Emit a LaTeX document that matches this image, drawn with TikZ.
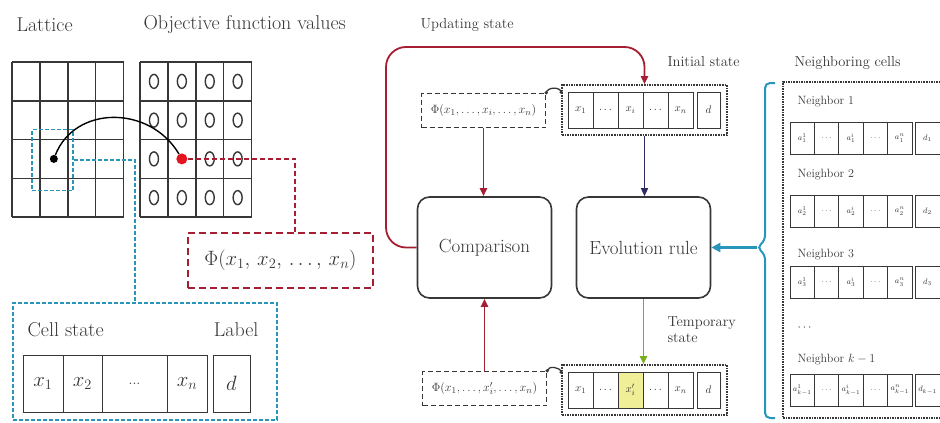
\documentclass[tikz,border=0pt]{standalone}
\usepackage{tikz}
\usetikzlibrary{arrows.meta, positioning, calc}
\definecolor{crimson}{RGB}{165,30,50}
\definecolor{cellteal}{RGB}{40,150,185}
\definecolor{leafgreen}{RGB}{120,175,30}
\definecolor{inkgray}{RGB}{55,55,55}
\definecolor{hilite}{RGB}{240,238,150}
\definecolor{pickred}{RGB}{230,20,30}

\begin{document}
\begin{tikzpicture}[x=1pt, y=-1pt,
  title/.style={anchor=west, text=inkgray, font=\fontsize{20}{22}\selectfont},
  note/.style={anchor=west, text=inkgray, align=left, font=\fontsize{14.5}{16}\selectfont},
  nbr/.style={anchor=west, text=inkgray, font=\fontsize{12}{14}\selectfont},
  block/.style={rectangle, draw=inkgray, line width=1.6pt, rounded corners=12pt,
                minimum width=134pt, minimum height=101pt, text=inkgray,
                font=\fontsize{19}{21}\selectfont},
  phibox/.style={rectangle, draw=inkgray, dash pattern=on 5pt off 3pt, line width=1.5pt,
                 inner sep=0pt, minimum width=124pt, minimum height=34pt, text=inkgray,
                 font=\fontsize{13}{14}\selectfont},
  stateframe/.style={rectangle, draw=inkgray, densely dotted, line width=1.6pt,
                     inner sep=0pt, minimum width=165pt, minimum height=50pt},
  scell/.style={rectangle, draw=inkgray, line width=1pt, inner sep=0pt,
                minimum width=25pt, minimum height=36pt, text=inkgray,
                font=\fontsize{11}{12}\selectfont},
  ncell/.style={scell, minimum width=24.4pt, minimum height=32pt,
                font=\fontsize{8.5}{9}\selectfont},
  bcell/.style={scell, minimum height=57pt, font=\fontsize{20}{22}\selectfont},
  tealbox/.style={rectangle, draw=cellteal, dash pattern=on 4pt off 2pt,
                  line width=1.5pt, inner sep=0pt},
  gridline/.style={draw=inkgray, line width=1.5pt},
  reddash/.style={draw=crimson, dash pattern=on 5pt off 3pt, line width=1.8pt},
  bluedash/.style={draw=cellteal, dash pattern=on 4pt off 2pt, line width=1.5pt},
  redarr/.style={-{Triangle[length=8pt,width=7pt]}, draw=crimson, line width=1.8pt},
  blackarr/.style={-{Triangle[length=8pt,width=7pt]}, draw=inkgray!80!blue, line width=1.5pt},
  greenarr/.style={-{Triangle[length=8pt,width=7pt]}, draw=leafgreen, line width=1.8pt},
  tealarr/.style={-{Triangle[length=9pt,width=9pt]}, draw=cellteal, line width=2.2pt},
  brace/.style={draw=cellteal, line width=2pt, rounded corners=5pt},
  hump/.style={draw=inkgray, line width=1.3pt},
]
\useasboundingbox[fill=white] (0,0) rectangle (940,423);

% Headings
\node[title] (lathead) at (13,25)  {Lattice};
\node[title] (objhead) at (140,25) {Objective function values};
\node[note]  (updhead) at (417,25) {Updating state};
\node[note]  (inihead) at (664,62) {Initial state};
\node[note]  (nbrhead) at (791,63) {Neighboring cells};
\node[note]  (tmphead) at (664,330) {Temporary\\state};

% Lattice and objective function grid
\foreach \gx in {12,140}
  \foreach \i in {0,...,4} {
    \draw[gridline] ({\gx+27.9*\i},62) -- ({\gx+27.9*\i},217);
    \draw[gridline] (\gx,{62+38.75*\i}) -- ({\gx+111.6},{62+38.75*\i});
  }
\foreach \c in {0,...,3}
  \foreach \r in {0,...,3} {
    \ifnum\c\r=12\relax\else
      \draw[line width=1.4pt, inkgray] ({140+27.9*(\c+0.5)},{62+38.75*(\r+0.5)})
        ellipse [x radius=4.5, y radius=7];
    \fi
  }

% Picked cell and its value
\node[tealbox, minimum width=41pt, minimum height=61pt] (pickbox) at (52.5,160) {};
\node[circle, fill=black, inner sep=0pt, minimum size=8pt] (bdot) at (53.85,158.9) {};
\node[circle, fill=pickred, inner sep=0pt, minimum size=11pt] (rdot) at (181.85,158.9) {};
\draw[line width=1.4pt, black] (bdot) .. controls (75,105) and (150,105) .. (rdot);

% Objective value box
\node[draw=crimson, dash pattern=on 7pt off 4pt, line width=2pt, minimum width=185pt,
      minimum height=55pt, text=inkgray, font=\fontsize{20}{22}\selectfont]
      (phibig) at (280.5,260.5) {$\Phi(x_1,\, x_2,\, \ldots,\, x_n)$};
\coordinate (redturn) at (295,158.9);
\draw[reddash] (rdot) -- (redturn) -- (redturn |- phibig.north);

% Cell state box
\node[tealbox, minimum width=264pt, minimum height=117pt] (cellframe) at (145,361.5) {};
\node[title] (cslabel) at (24,330) {Cell state};
\node[title, anchor=east] (lblabel) at (262,330) {Label};
\foreach \cx/\w/\t [count=\i] in {43/40/x_1, 82.5/39/x_2, 134.5/65/{\scriptstyle\ldots}, 187/40/x_n}
  \node[bcell, minimum width=\w] (cs\i) at (\cx,383.5) {$\t$};
\node[bcell, minimum width=37] (csd) at (231.5,383.5) {$d$};
\coordinate (blueturn) at (135,160);
\draw[bluedash] (pickbox.east) -- (blueturn) -- (blueturn |- cellframe.north);

% Comparison and evolution rule
\node[block] (comp) at (484.5,247.5) {Comparison};
\node[block] (evo)  at (643.5,247.5) {Evolution rule};
\node[phibox] (phitop) at (483.5,110.5) {$\Phi(x_1,\ldots,x_i,\ldots,x_n)$};
\node[phibox] (phibot) at (484.5,388.5) {$\Phi(x_1,\ldots,x_i',\ldots,x_n)$};
\node[stateframe] (init) at (644.5,110) {};
\node[stateframe] (temp) at (644.5,390) {};
\foreach \cx/\t/\u/\f [count=\i] in {580.5/x_1/x_1/white, 605.5/\ldots/\ldots/white,
    630.5/x_i/x_i'/hilite, 655.5/\ldots/\ldots/white, 680.5/x_n/x_n/white} {
  \node[scell] (ini\i) at (\cx,110) {$\t$};
  \node[scell, fill=\f] (tmp\i) at (\cx,390) {$\u$};
}
\node[scell, minimum width=23] (inid) at (708.5,110) {$d$};
\node[scell, minimum width=23] (tmpd) at (708.5,390) {$d$};

% Arrows of the loop
\coordinate (loopc) at (386,47);
\draw[redarr, rounded corners=20pt] (comp.west) -| (loopc) -| (init.north);
\draw[redarr] (phitop.south) -- (phitop.south |- comp.north);
\draw[redarr] (phibot.north) -- (phibot.north |- comp.south);
\draw[blackarr] (init.south) -- (init.south |- evo.north);
\draw[greenarr] (evo.south) -- (evo.south |- temp.north);

% Links between value and state
\draw[hump] (phitop.north east) to[out=80, in=100] ([yshift=-8pt]init.north west);
\fill[inkgray] (phitop.north east) circle (1.8) ([yshift=-8pt]init.north west) circle (1.8);
\draw[hump] (phibot.north east) to[out=80, in=100] ([yshift=-8pt]temp.north west);
\fill[inkgray] (phibot.north east) circle (1.8) ([yshift=-8pt]temp.north west) circle (1.8);

% Neighboring cells
\node[stateframe, minimum width=163pt, minimum height=336pt] (nbrframe) at (864.5,250) {};
\coordinate (brtip) at (757,247.5);
\draw[brace] (775,83) -- (765,83) -- (765,240.5) -- (brtip) -- (765,254.5) -- (765,418) -- (775,418);
\draw[tealarr] (brtip) -- (brtip -| evo.east);
\foreach \s/\ly/\cy [count=\r] in {1/102/138, 2/175/211, 3/255/282, {k-1}/360/390} {
  \node[nbr] (nl\r) at (794,\ly) {Neighbor $\s$};
  \foreach \t [count=\i] in {a_{\s}^{1}, \ldots, a_{\s}^{i}, \ldots, a_{\s}^{n}}
    \node[ncell] (nb\r-\i) at ({790+24.4*(\i-0.5)},\cy) {$\t$};
  \node[ncell, minimum width=25] (nb\r-d) at (927.5,\cy) {$d_{\s}$};
}
\node[nbr] (nldots) at (794,328) {$\cdots$};

\end{tikzpicture}
\end{document}
